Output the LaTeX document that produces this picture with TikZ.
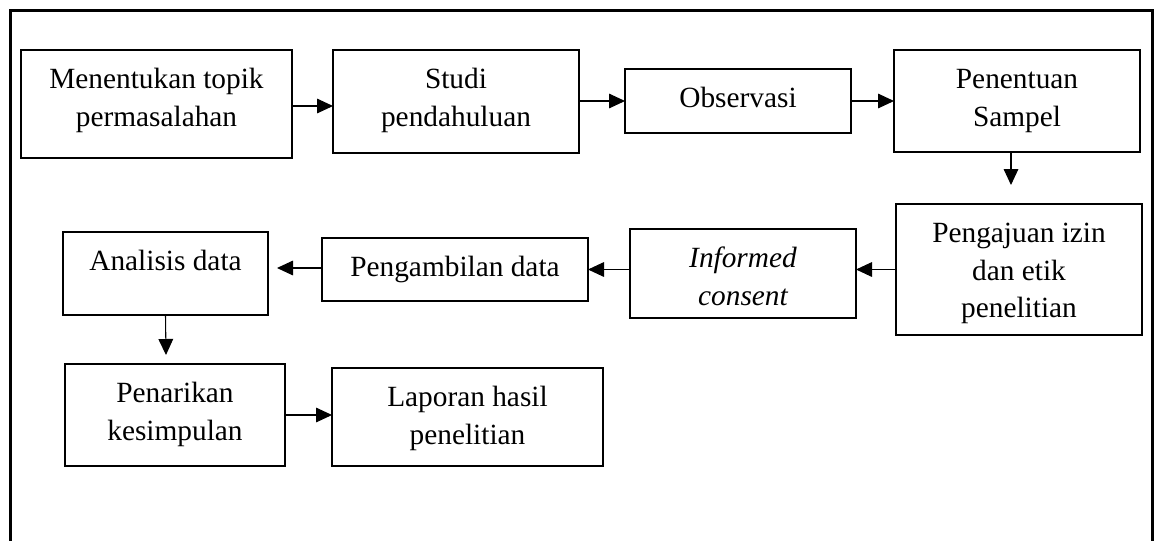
\documentclass[tikz,border=0pt]{standalone}
\usepackage{fontspec}
\setmainfont{Liberation Serif}
\usetikzlibrary{arrows.meta}
\newdimen\pxu \pxu=0.75pt
% box content: width, height (in px units), text hung from the top
\newcommand\bxtext[3]{\parbox[c][#2\pxu][t]{#1\pxu}{\centering\rule{0pt}{29pt}#3}}
\tikzset{
  stepbox/.style={draw, line width=1.8pt, inner sep=0pt, outer sep=0pt,
    font=\fontsize{22pt}{28pt}\selectfont},
  flow/.style={line width=0.8pt, -{Triangle[length=12pt,width=11pt]}},
  frame/.style={line width=1.7pt}
}
\begin{document}
\begin{tikzpicture}[x=0.75pt,y=-0.75pt]
\useasboundingbox (0,0) rectangle (1160,540);
% open frame round the chart
\draw[frame] (10.5,541) -- (10.5,10.5) -- (1152.5,10.5) -- (1152.5,541);

% first row
\node[stepbox] (topik) at (156.5,104) {\bxtext{271}{108}{Menentukan topik\\permasalahan}};
\node[stepbox] (studi) at (456,101.5) {\bxtext{246}{103}{Studi\\pendahuluan}};
\node[stepbox] (obs) at (738,101) {\bxtext{226}{64}{Observasi}};
\node[stepbox] (sampel) at (1017,101) {\bxtext{246}{102}{Penentuan\\Sampel}};

% second row
\node[stepbox] (izin) at (1019,269.5) {\bxtext{246}{131}{Pengajuan izin\\dan etik\\penelitian}};
\node[stepbox] (consent) at (743,273.5) {\bxtext{226}{89}{\itshape Informed\\consent}};
\node[stepbox] (ambil) at (455,269.5) {\bxtext{266}{63}{Pengambilan data}};
\node[stepbox] (analisis) at (165.5,273.5) {\bxtext{205}{83}{Analisis data}};

% third row
\node[stepbox] (tarik) at (175,415) {\bxtext{220}{102}{Penarikan\\kesimpulan}};
\node[stepbox] (lapor) at (467.5,417) {\bxtext{271}{98}{Laporan hasil\\penelitian}};

% free ends of the short arrows
\coordinate (sampelEnd) at (1011,185);
\coordinate (ambilEnd) at (277,268);
\coordinate (analisisEnd) at (166,355);

% connectors
\draw[flow] ([yshift=-1.5pt]topik.east) -- ([yshift=-1.5pt]topik.east -| studi.west);
\draw[flow] (studi.east |- obs.west) -- (obs.west);
\draw[flow] (obs.east) -- (obs.east -| sampel.west);
\draw[flow] (sampel.south -| sampelEnd) -- (sampelEnd);
\draw[flow] (izin.west) -- (izin.west -| consent.east);
\draw[flow] (ambil.east -| consent.west) -- (ambil.east);
\draw[flow] (ambilEnd -| ambil.west) -- (ambilEnd);
\draw[flow] (analisis.south) -- (analisisEnd);
\draw[flow] (tarik.east) -- (tarik.east -| lapor.west);
\end{tikzpicture}
\end{document}
